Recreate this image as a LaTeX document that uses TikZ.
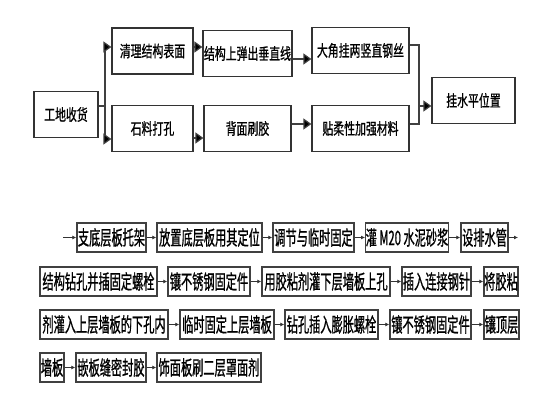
\documentclass[tikz,border=0pt]{standalone}
\usepackage{fontspec}
\newfontfamily\cjkup[FakeStretch=0.68,FakeBold=0.8]{Noto Sans CJK SC}
\newfontfamily\cjklow[FakeStretch=0.56,FakeBold=0.8]{Noto Sans CJK SC}
\usetikzlibrary{arrows.meta}

\tikzset{
  upbox/.style={draw=black!80,line width=1.2pt,minimum height=46pt,inner sep=1pt,
    font=\cjkup\fontsize{16}{16}\selectfont},
  lowbox/.style={draw=black!75,line width=1.4pt,minimum height=29pt,inner sep=0pt,
    font=\cjklow\fontsize{20}{20}\selectfont},
  bigarrow/.style={line width=1.2pt,draw=black!75,-{Triangle[length=8pt,width=11pt,fill=black]}},
  joinline/.style={line width=1.2pt,draw=black!75},
  smallarrow/.style={line width=1pt,draw=black!80,-{Latex[length=4pt,width=4pt]}},
}

\begin{document}
\begin{tikzpicture}[x=1pt,y=-1pt]

		\useasboundingbox [fill=white] (0,0) rectangle (560,406);

		% upper flow
		\node [upbox,minimum width=64pt] (shouhuo) at (66,114.5) {工地收货};
		\node [upbox,minimum width=81pt] (qingli) at (152.5,51) {清理结构表面};
		\node [upbox,minimum width=81pt] (shiliao) at (152.5,128.5) {石料打孔};
		\node [upbox,minimum width=87pt] (tanxian) at (247.5,53.5) {结构上弹出垂直线};
		\node [upbox,minimum width=87pt] (beimian) at (247.5,128.5) {背面刷胶};
		\node [upbox,minimum width=97pt] (gangsi) at (360.5,50.5) {大角挂两竖直钢丝};
		\node [upbox,minimum width=97pt] (tiecai) at (360.5,128.5) {贴柔性加强材料};
		\node [upbox,minimum width=83pt] (guashui) at (473.5,100.5) {挂水平位置};

		\coordinate (split) at (105,106);
		\coordinate (merge) at (419,106);

		\draw [joinline] (shouhuo.east |- split) -- (split);
		\draw [bigarrow] (split) |- (qingli.west |- 0,47);
		\draw [bigarrow] (split) |- (shiliao.west |- 0,139);
		\draw [bigarrow] (qingli.east |- 0,47) -- (tanxian.west |- 0,47);
		\draw [bigarrow] (tanxian.east |- 0,59) -- (gangsi.west |- 0,59);
		\draw [bigarrow] (shiliao.east |- 0,138) -- (beimian.west |- 0,138);
		\draw [bigarrow] (beimian.east |- 0,124) -- (tiecai.west |- 0,124);
		\draw [joinline] (gangsi.east |- 0,45) -| (merge) |- (tiecai.east |- 0,124);
		\draw [bigarrow] (merge) -- (guashui.west |- merge);

		% lower chain
		\node [lowbox,minimum width=69pt] (r1a) at (111.5,237.5) {支底层板托架};
		\node [lowbox,minimum width=105pt] (r1b) at (209.5,237.5) {放置底层板用其定位};
		\node [lowbox,minimum width=81pt] (r1c) at (313.5,237.5) {调节与临时固定};
		\node [lowbox,minimum width=82pt] (r1d) at (407,237.5) {灌 M20 水泥砂浆};
		\node [lowbox,minimum width=47pt] (r1e) at (484.5,237.5) {设排水管};

		\node [lowbox,minimum width=117pt] (r2a) at (98.5,281.5) {结构钻孔并插固定螺栓};
		\node [lowbox,minimum width=82pt] (r2b) at (209,281.5) {镶不锈钢固定件};
		\node [lowbox,minimum width=128pt] (r2c) at (326,281.5) {用胶粘剂灌下层墙板上孔};
		\node [lowbox,minimum width=69pt] (r2d) at (436.5,281.5) {插入连接钢针};
		\node [lowbox,minimum width=34pt] (r2e) at (501,281.5) {将胶粘};

		\node [lowbox,minimum width=128pt] (r3a) at (104,324.5) {剂灌入上层墙板的下孔内};
		\node [lowbox,minimum width=94pt] (r3b) at (227,324.5) {临时固定上层墙板};
		\node [lowbox,minimum width=93pt] (r3c) at (331.5,324.5) {钻孔插入膨胀螺栓};
		\node [lowbox,minimum width=81pt] (r3d) at (430.5,324.5) {镶不锈钢固定件};
		\node [lowbox,minimum width=35pt] (r3e) at (501.5,324.5) {镶顶层};

		\node [lowbox,minimum width=24pt] (r4a) at (52,367.5) {墙板};
		\node [lowbox,minimum width=70pt] (r4b) at (111,367.5) {嵌板缝密封胶};
		\node [lowbox,minimum width=104pt] (r4c) at (209,367.5) {饰面板刷二层罩面剂};

		\coordinate (lead) at (63,237.5);
		\coordinate (tail) at (518,237.5);

		\draw [smallarrow] (lead) -- (r1a);
		\draw [smallarrow] (r1e) -- (tail);
		\foreach \a/\b in {r1a/r1b,r1b/r1c,r1c/r1d,r1d/r1e,
			r2a/r2b,r2b/r2c,r2c/r2d,r2d/r2e,
			r3a/r3b,r3b/r3c,r3c/r3d,r3d/r3e,
			r4a/r4b,r4b/r4c}
			\draw [smallarrow] (\a) -- (\b) ;

\end{tikzpicture}
\end{document}
